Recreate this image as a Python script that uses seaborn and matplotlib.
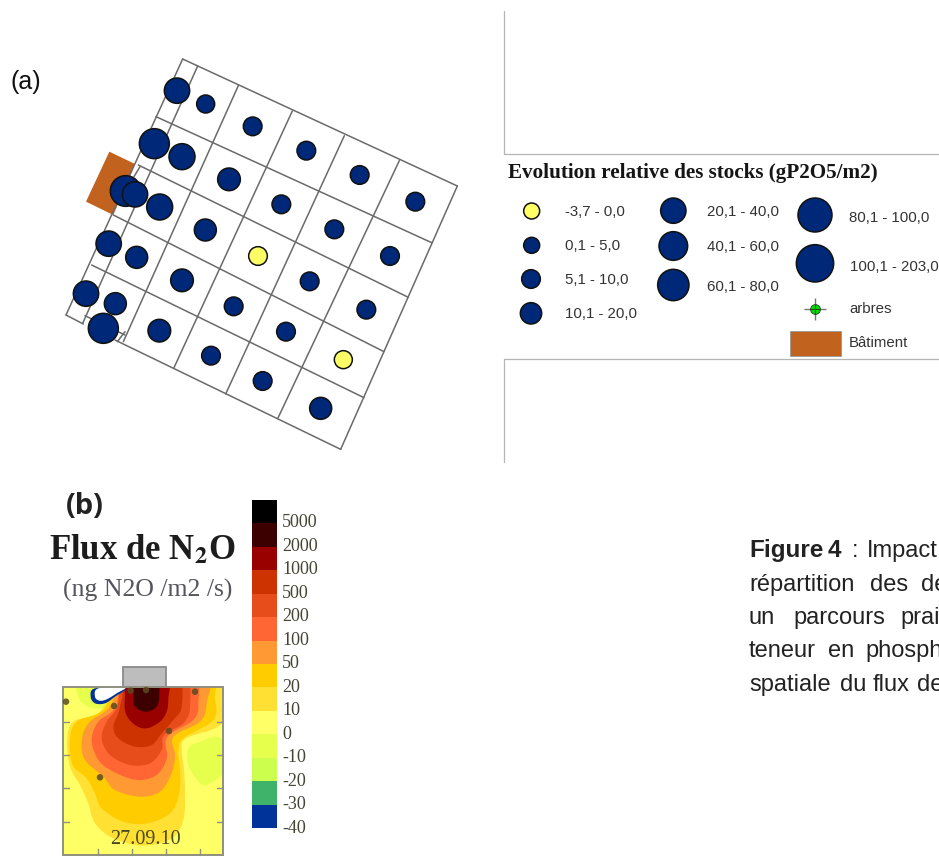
import numpy as np
import pandas as pd
import matplotlib
matplotlib.use("Agg")
import matplotlib.pyplot as plt
from matplotlib.colors import ListedColormap
from matplotlib.patches import Rectangle
import seaborn as sns

# ---- panel (a): stock map (values read on a 3x grid of the map area)
MAP_X = [351,437,578,739,899,1066,283,366,507,664,823,990,197,225,299,436,594,749,919,146,230,366,521,678,850,78,166,130,298,453,608,782]
MAP_Y = [122,162,229,302,375,455,281,320,388,463,538,618,423,433,471,540,618,694,779,581,622,691,769,845,929,731,761,835,842,917,993,1075]
MAP_R = [38,27,28,28,28,28,45,39,34,28,28,28,46,38,39,33,28,28,28,38,33,34,28,28,27,38,33,45,34,28,28,33]
MAP_NEG = [16, 24]
GRID_X0 = [368,368,18,413,535,697,853,1018,288,235,160,95,165,75,1192,240,195]
GRID_Y0 = [27,27,795,48,107,183,257,332,200,345,495,645,870,797,408,350,845]
GRID_X1 = [1192,18,70,68,190,342,497,653,1115,1045,972,912,842,195,842,222,172]
GRID_Y1 = [408,795,822,820,875,953,1032,1106,578,742,905,1043,1198,855,1198,380,875]
BUILD_X = [148,225,160,78]
BUILD_Y = [305,342,495,455]

# ---- legend
LEG_LABELS = ["-3,7 - 0,0","0,1 - 5,0","5,1 - 10,0","10,1 - 20,0","20,1 - 40,0","40,1 - 60,0","60,1 - 80,0","80,1 - 100,0","100,1 - 203,0"]
LEG_X = [95,95,93,93,520,520,520,945,945]
LEG_Y = [183,286,387,490,182,288,405,195,340]
LEG_R = [24,24,28,32,38,43,47,51,56]
LEG_TX = [195,195,195,195,622,622,622,1047,1050]
LEG_TY = [185,287,390,492,185,292,412,205,350]

# ---- panel (b): flux classes, top to bottom
FLUX_COLORS = ["#000000","#3D0000","#990000","#CC3300","#E64D1A","#FF6633","#FF9933","#FFCC00","#FFE033","#FFFF66","#E6FF4D","#CCFF4D","#40B36B","#003399"]
FLUX_LABELS = ["5000","2000","1000","500","200","100","50","20","10","0","-10","-20","-30","-40"]
ZONE_10 = [(40,125),(22,180),(30,260),(60,315),(85,370),(105,430),(160,475),(250,497),(335,475),(370,420),(375,340),(372,270),(365,210),(378,175),(480,135),(490,60),(470,-10),(200,-10),(120,95)]
ZONE_20 = [(50,125),(30,180),(38,255),(80,295),(105,340),(125,385),(190,425),(260,430),(330,400),(358,340),(360,270),(355,215),(370,175),(460,120),(465,55),(440,-10),(200,-10),(130,90)]
ZONE_50 = [(85,130),(65,185),(75,240),(130,290),(165,330),(240,350),(300,335),(335,280),(345,225),(340,170),(420,125),(440,70),(430,-10),(200,-10),(150,80)]
ZONE_100 = [(115,125),(95,180),(115,240),(160,275),(230,300),(290,285),(320,235),(322,170),(400,120),(415,70),(395,-10),(205,-10),(165,85)]
ZONE_200 = [(140,125),(125,175),(150,225),(210,255),(270,250),(305,210),(312,165),(370,130),(390,80),(370,-10),(205,-10),(170,85)]
ZONE_500 = [(175,100),(160,140),(175,175),(225,200),(275,195),(305,160),(340,120),(365,80),(350,-10),(210,-10),(185,60)]
ZONE_1000 = [(195,50),(197,100),(225,135),(260,145),(300,125),(320,95),(325,55),(320,-10),(205,-10)]
ZONE_2000 = [(220,30),(222,75),(255,95),(290,80),(298,40),(290,-10),(218,-10)]
ZONE_NEG = [(385,205),(385,255),(420,310),(450,310),(495,270),(500,200),(470,170),(420,185)]
ZONE_LIME = [(60,-10),(55,50),(85,80),(130,85),(165,60),(200,-10)]
ZONE_LOW = [(105,25),(92,50),(105,70),(135,70),(165,50),(195,25)]
ZONE_HOLE = [(115,25),(105,50),(118,62),(140,58),(170,40),(195,22)]
ZONES = [(ZONE_10,8),(ZONE_20,7),(ZONE_50,6),(ZONE_100,5),(ZONE_200,4),(ZONE_500,3),(ZONE_1000,2),(ZONE_2000,1)]
DOTS_X = [18,162,258,212,327,120,405]
DOTS_Y = [65,78,30,32,153,292,35]
TICKS_Y = [125,225,325,425]
TICKS_X = [115,215,318,420]

# ---- caption words (clipped by the page edge)
CAPTION = [("Figure",749,557,True),("4",828,557,True),(":",852,557,False),("Impact",867,557,False),
           ("répartition",749,591,False),("des",870,591,False),("de",921,591,False),
           ("un",749,624,False),("parcours",793,624,False),("prai",900,624,False),
           ("teneur",749,657,False),("en",828,657,False),("phosph",865,657,False),
           ("spatiale",749,691,False),("du",840,691,False),("flux",873,691,False),("de",917,691,False)]

NAVY, YELLOW, BROWN = "#002878", "#FFFF66", "#C1621F"
GRID_C = "#6a6a6a"
FRAME_C = "#8f8f80"

sns.set_theme(style="white")
plt.rcParams["font.family"] = ["Liberation Sans", "DejaVu Sans"]
plt.rcParams["mathtext.fontset"] = "stix"
W, H = 939, 857
fig = plt.figure(figsize=(W/100, H/100), dpi=100, facecolor="white")

def area(x0, y0, x1, y1, xmax, ymax):
    a = fig.add_axes([x0/W, 1-y1/H, (x1-x0)/W, (y1-y0)/H])
    a.set_xlim(0, xmax); a.set_ylim(ymax, 0); a.axis("off"); a.patch.set_alpha(0)
    return a

def marker_area(r):
    return (2*(r/3)*0.72)**2

def circles(a, xs, ys, rs, neg):
    df = pd.DataFrame({"x": xs, "y": ys, "r": rs,
                       "k": ["neg" if i in neg else "pos" for i in range(len(xs))]})
    sns.scatterplot(data=df, x="x", y="y", hue="k", size="r",
                    palette={"neg": YELLOW, "pos": NAVY},
                    sizes={r: marker_area(r) for r in set(rs)},
                    edgecolor="#111111", linewidth=1.1, legend=False, ax=a, zorder=5, clip_on=False)
    a.set_xlabel(""); a.set_ylabel("")

# page axes, in pixels
page = area(0, 0, W, H, W, H)
page.text(10, 82, "(a)", fontsize=18, va="center", color="#111111")
for (xa, ya, xb, yb) in [(504,11,504,154),(504,154,939,154),(504,359,939,359),(504,359,504,462)]:
    page.plot([xa, xb], [ya, yb], color="#b5b5b5", lw=0.9)
for w, x, y, b in CAPTION:
    page.text(x, y, w, fontsize=17.5 if b else 17, color="#222222", fontweight="bold" if b else "normal", va="baseline", clip_on=True)

# panel (a)
ma = area(60, 50, 470, 470, 1230, 1260)
ma.fill(BUILD_X, BUILD_Y, color=BROWN, zorder=1, lw=0)
for x0, y0, x1, y1 in zip(GRID_X0, GRID_Y0, GRID_X1, GRID_Y1):
    ma.plot([x0, x1], [y0, y1], color=GRID_C, lw=1.1, zorder=2, solid_capstyle="round")
circles(ma, MAP_X, MAP_Y, MAP_R, MAP_NEG)

# legend
lg = area(500, 150, 939, 370, 1317, 660)
lg.text(24, 68, "Evolution relative des stocks (gP2O5/m2)", family="Liberation Serif", fontweight="bold",
        fontsize=15.2, va="center", color="#151515")
circles(lg, LEG_X, LEG_Y, LEG_R, [0])
for t, x, y in zip(LEG_LABELS, LEG_TX, LEG_TY):
    lg.text(x, y, t, fontsize=10.8, va="center", color="#333333", clip_on=False)
sns.scatterplot(x=[945], y=[478], marker="+", s=230, color="#777777", linewidth=1, legend=False, ax=lg, zorder=5)
sns.scatterplot(x=[945], y=[478], marker="o", s=50, color="#00E000", edgecolor="#333333", linewidth=0.6, legend=False, ax=lg, zorder=6)
sns.scatterplot(x=[945], y=[478], marker="+", s=45, color="#115511", linewidth=0.8, legend=False, ax=lg, zorder=7)
lg.set_xlabel(""); lg.set_ylabel("")
lg.text(1047, 478, "arbres", fontsize=10.8, va="center", color="#333333")
lg.text(1047, 580, "Bâtiment", fontsize=10.8, va="center", color="#333333")
lg.add_patch(Rectangle((870, 543), 152, 74, facecolor=BROWN, edgecolor="#999999", lw=0.6))

# panel (b): contour map
pb = area(60, 680, 230, 857, 510, 531)

def smooth(points, steps=12):
    p = np.array(points, float); n = len(p); out = []
    for i in range(n):
        p0, p1, p2, p3 = p[(i-1) % n], p[i], p[(i+1) % n], p[(i+2) % n]
        for t in np.linspace(0, 1, steps, endpoint=False):
            out.append(0.5*((2*p1) + (p2-p0)*t + (2*p0-5*p1+4*p2-p3)*t**2 + (3*p1-p0-3*p2+p3)*t**3))
    return np.array(out)

frame = Rectangle((10, 22), 480, 503, facecolor=FLUX_COLORS[9], edgecolor="none", zorder=1)
pb.add_patch(frame)

def zone(points, color, z):
    s = smooth(points)
    poly = pb.fill(s[:, 0], s[:, 1], color=color, lw=0, zorder=z)[0]
    poly.set_clip_path(frame)

zone(ZONE_NEG, FLUX_COLORS[10], 2)
zone(ZONE_LIME, FLUX_COLORS[10], 2)
for pts, idx in ZONES:
    zone(pts, FLUX_COLORS[idx], 3)
zone(ZONE_LOW, FLUX_COLORS[13], 4)
zone(ZONE_HOLE, "#FFFFFF", 4.1)

pb.add_patch(Rectangle((190, -38), 128, 60, facecolor="#BDBDBD", edgecolor="#8a8a8a", lw=1.3, zorder=6, clip_on=False))
pb.add_patch(Rectangle((10, 22), 480, 503, facecolor="none", edgecolor=FRAME_C, lw=1.4, zorder=7))
for y in TICKS_Y:
    pb.plot([10, 28], [y, y], color=FRAME_C, lw=1, zorder=7)
    pb.plot([472, 490], [y, y], color=FRAME_C, lw=1, zorder=7)
for x in TICKS_X:
    pb.plot([x, x], [507, 525], color=FRAME_C, lw=1, zorder=7)
sns.scatterplot(x=DOTS_X, y=DOTS_Y, s=22, color="#5a4a20", alpha=0.85, edgecolor="none", legend=False, ax=pb, zorder=8)
pb.set_xlabel(""); pb.set_ylabel(""); pb.set_xlim(0, 510); pb.set_ylim(531, 0)
pb.text(255, 478, "27.09.10", family="Liberation Serif", fontsize=14.5, ha="center", va="center", color="#4a4a20", zorder=9)

# panel (b): headings and scale labels
ph = area(40, 480, 340, 857, 900, 1131)
ph.text(78, 80, "(b)", family="Open Sans", fontweight="bold", fontsize=21, va="center", color="#222222")
ph.text(28, 212, r"Flux de N$_{\mathbf{2}}$O", family="Liberation Serif", fontweight="bold", fontsize=25, va="center", color="#1c1c1c")
ph.text(70, 332, "(ng N2O /m2 /s)", family="Liberation Serif", fontsize=18.5, va="center", color="#55555f")
for i, lab in enumerate(FLUX_LABELS):
    ph.text(726, 128 + i*70.5, lab, family="Liberation Serif", fontsize=13, va="center", color="#444433")

# colour scale
cb = fig.add_axes([251.7/W, 1-828/H, 25/W, 328/H])
sns.heatmap(np.arange(len(FLUX_COLORS)).reshape(-1, 1), cmap=ListedColormap(FLUX_COLORS), cbar=False,
            xticklabels=False, yticklabels=False, ax=cb)

fig.savefig("out.png", dpi=100)
